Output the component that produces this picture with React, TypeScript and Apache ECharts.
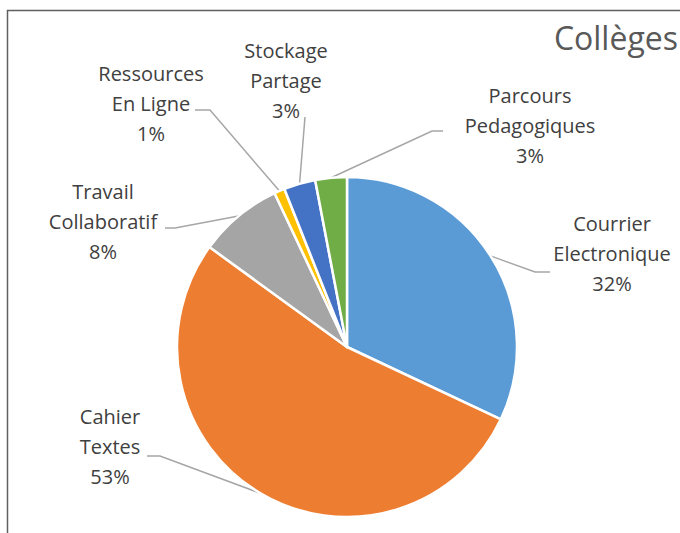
import React, { useEffect, useRef } from "react";
import * as echarts from "echarts";

const categories = [
  "Courrier Electronique",
  "Cahier Textes",
  "Travail Collaboratif",
  "Ressources En Ligne",
  "Stockage Partage",
  "Parcours Pedagogiques",
];
const values = [32, 53, 8, 1, 3, 3];
const colors = ["#5B9BD5", "#ED7D31", "#A5A5A5", "#FFC000", "#4472C4", "#70AD47"];
const titleText = "Collèges";

// label layout: centre of label block, leader elbow and end point
const labelCenters = [
  [612, 253],
  [110, 446],
  [103, 221],
  [151, 103],
  [286, 80],
  [530, 125],
];
const leaderEnds = [
  [[535, 272], [550, 272]],
  [[160, 456], [147, 456]],
  [[175, 228], [165, 228]],
  [[210, 110], [195, 110]],
  [[305, 117], [305, 117]],
  [[432, 131], [443, 131]],
];

export default function App() {
  const ref = useRef<HTMLDivElement>(null);
  useEffect(() => {
    const chart = echarts.init(ref.current!, undefined, { renderer: "svg" });
    const font = "'Open Sans', sans-serif";
    chart.setOption({
      animation: false,
      title: {
        text: titleText,
        right: -3,
        top: 16,
        textStyle: { fontFamily: font, fontSize: 32, fontWeight: "normal", color: "#595959" },
      },
      graphic: [
        {
          type: "rect",
          shape: { x: 7.5, y: 10.5, width: 720, height: 600 },
          style: { fill: "none", stroke: "#5f5f5f", lineWidth: 1.5 },
          silent: true,
        },
      ],
      series: [
        {
          type: "pie",
          center: [347, 347],
          radius: 170,
          startAngle: 90,
          clockwise: true,
          data: categories.map((c, i) => ({
            name: c,
            value: values[i],
            itemStyle: { color: colors[i] },
          })),
          itemStyle: { borderColor: "#ffffff", borderWidth: 2.5 },
          label: {
            show: true,
            position: "outside",
            fontFamily: font,
            fontSize: 20,
            lineHeight: 30,
            color: "#404040",
            align: "center",
            formatter: (p: any) => p.name.replace(" ", "\n") + "\n" + p.value + "%",
          },
          labelLine: {
            show: true,
            length: 20,
            length2: 10,
            lineStyle: { color: "#A6A6A6", width: 1.5 },
          },
          labelLayout: (p: any) => {
            const i = p.dataIndex;
            const start = p.labelLinePoints ? p.labelLinePoints[0] : leaderEnds[i][0];
            return {
              x: labelCenters[i][0],
              y: labelCenters[i][1],
              align: "center",
              verticalAlign: "middle",
              labelLinePoints: [start, leaderEnds[i][0], leaderEnds[i][1]],
            };
          },
        },
      ],
    });
    return () => chart.dispose();
  }, []);
  return (
    <div
      ref={ref}
      style={{ position: "absolute", left: 0, top: 0, width: 680, height: 533 }}
    />
  );
}
